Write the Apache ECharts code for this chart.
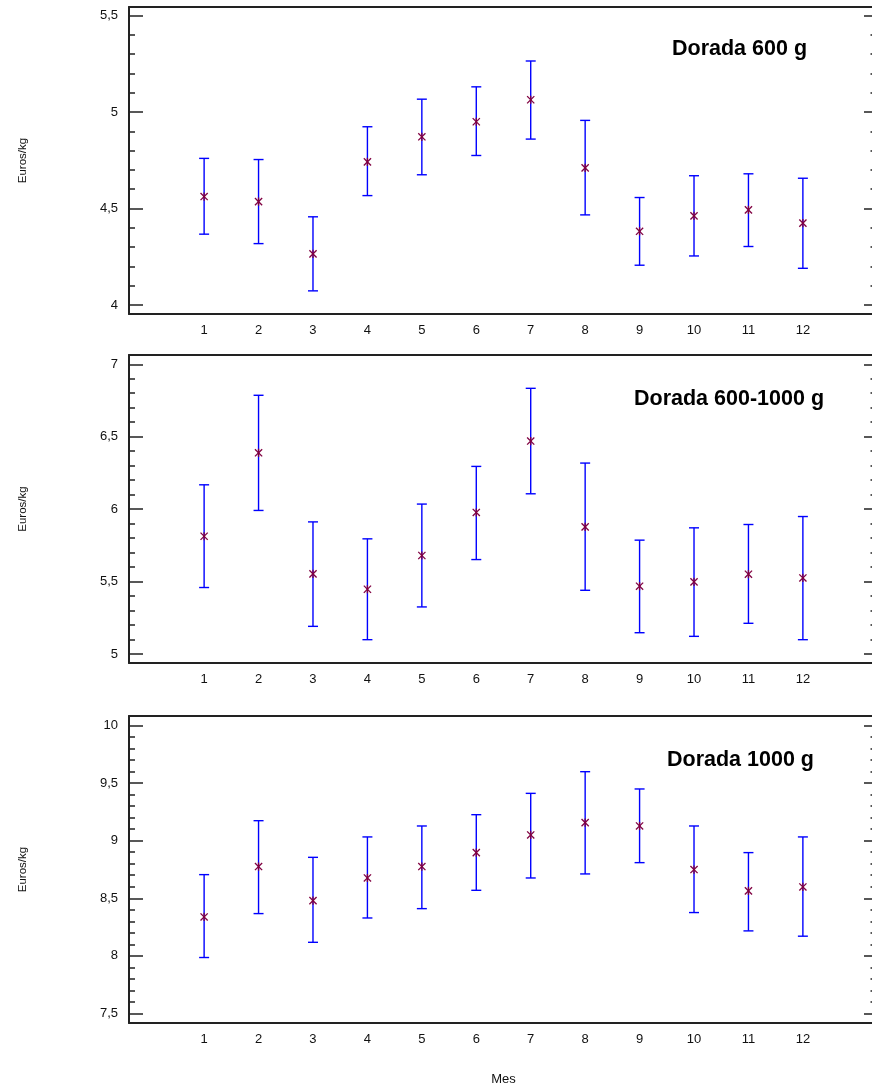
<!DOCTYPE html>
<html>
<head>
<meta charset="utf-8">
<script src="https://cdn.jsdelivr.net/npm/echarts@6/dist/echarts.min.js"></script>
<style>html,body{margin:0;padding:0;background:#fff}#c{width:872px;height:1088px}</style>
</head>
<body>
<div id="c"></div>
<script>
// ---- data ----
const months = [1, 2, 3, 4, 5, 6, 7, 8, 9, 10, 11, 12];
const panelTitles = ['Dorada 600 g', 'Dorada 600-1000 g', 'Dorada 1000 g'];
const yAxisName = 'Euros/kg';
const xAxisName = 'Mes';

const p1Mean = [4.562, 4.536, 4.265, 4.742, 4.872, 4.950, 5.064, 4.711, 4.382, 4.462, 4.493, 4.424];
const p1Low  = [4.367, 4.318, 4.073, 4.567, 4.675, 4.775, 4.860, 4.467, 4.206, 4.254, 4.303, 4.190];
const p1High = [4.760, 4.754, 4.457, 4.924, 5.067, 5.131, 5.265, 4.957, 4.557, 4.670, 4.680, 4.657];

const p2Mean = [5.813, 6.389, 5.553, 5.447, 5.680, 5.977, 6.470, 5.878, 5.468, 5.498, 5.551, 5.525];
const p2Low  = [5.459, 5.991, 5.191, 5.099, 5.325, 5.652, 6.106, 5.440, 5.147, 5.122, 5.212, 5.099];
const p2High = [6.168, 6.786, 5.912, 5.795, 6.035, 6.295, 6.834, 6.318, 5.786, 5.871, 5.894, 5.949];

const p3Mean = [8.338, 8.775, 8.480, 8.676, 8.775, 8.896, 9.049, 9.156, 9.127, 8.749, 8.564, 8.598];
const p3Low  = [7.986, 8.367, 8.118, 8.329, 8.410, 8.569, 8.676, 8.711, 8.809, 8.376, 8.217, 8.171];
const p3High = [8.705, 9.173, 8.855, 9.032, 9.127, 9.225, 9.410, 9.598, 9.448, 9.127, 8.896, 9.032];

const yTicks1 = [4, 4.5, 5, 5.5];
const yTicks2 = [5, 5.5, 6, 6.5, 7];
const yTicks3 = [7.5, 8, 8.5, 9, 9.5, 10];

// ---- layout / style ----
const FONT = "'Liberation Sans', Arial, sans-serif";
const panels = [
  { mean: p1Mean, low: p1Low, high: p1High, ticks: yTicks1, min: 3.953, max: 5.545, top: 7,   height: 307, title: { left: 672, top: 38 } },
  { mean: p2Mean, low: p2Low, high: p2High, ticks: yTicks2, min: 4.938, max: 7.064, top: 355, height: 308, title: { left: 634, top: 388 } },
  { mean: p3Mean, low: p3Low, high: p3High, ticks: yTicks3, min: 7.418, max: 10.081, top: 716, height: 307, title: { left: 667, top: 749 } }
];

function minorValues(min, max) {
  const out = [];
  for (let v = Math.ceil(min * 10); v <= Math.floor(max * 10); v++) out.push(v / 10);
  return out;
}

const AX = '#222';
const grids = [], xAxes = [], yAxes = [], series = [], titles = [];

panels.forEach((p, i) => {
  const g = { left: 129, top: p.top, width: 749, height: p.height, containLabel: false, outerBoundsMode: 'none' };
  grids.push(Object.assign({}, g));   // main grid: 2i
  grids.push(Object.assign({}, g));   // minor-tick grid: 2i+1
  const gm = 2 * i, gn = 2 * i + 1;

  // bottom x axis with labels
  xAxes.push({
    type: 'value', gridIndex: gm, position: 'bottom', min: -0.38, max: 13.38,
    axisLine: { show: true, onZero: false, lineStyle: { color: AX, width: 2 } },
    axisTick: { show: false },
    splitLine: { show: false },
    axisLabel: { customValues: months, color: '#111', fontSize: 13, fontFamily: FONT, margin: 10 },
    name: i === 2 ? xAxisName : '', nameLocation: 'middle', nameGap: 50,
    nameTextStyle: { color: '#111', fontSize: 13, fontFamily: FONT }
  });
  // top frame line
  xAxes.push({
    type: 'value', gridIndex: gm, position: 'top', min: -0.38, max: 13.38,
    axisLine: { show: true, onZero: false, lineStyle: { color: AX, width: 2 } },
    axisTick: { show: false }, axisLabel: { show: false }, splitLine: { show: false }
  });
  // hidden x axis for minor grid
  xAxes.push({ type: 'value', gridIndex: gn, show: false, min: -0.38, max: 13.38,
    axisLine: { onZero: false } });

  const minors = minorValues(p.min, p.max);
  const yBase = { type: 'value', min: p.min, max: p.max, splitLine: { show: false } };
  // left major + labels
  yAxes.push(Object.assign({}, yBase, {
    gridIndex: gm, position: 'left',
    axisLine: { show: true, onZero: false, lineStyle: { color: AX, width: 2 } },
    axisTick: { show: true, inside: true, length: 14, customValues: p.ticks, lineStyle: { color: AX, width: 1.5 } },
    axisLabel: { customValues: p.ticks, color: '#111', fontSize: 13, fontFamily: FONT, margin: 11,
      formatter: v => String(v).replace('.', ',') },
    name: yAxisName, nameLocation: 'middle', nameGap: 100, nameRotate: 90,
    nameTextStyle: { color: '#111', fontSize: 11.5, fontFamily: FONT }
  }));
  // right major
  yAxes.push(Object.assign({}, yBase, {
    gridIndex: gm, position: 'right',
    axisLine: { show: true, onZero: false, lineStyle: { color: AX, width: 2 } },
    axisTick: { show: true, inside: true, length: 14, customValues: p.ticks, lineStyle: { color: AX, width: 1.5 } },
    axisLabel: { show: false }
  }));
  // left minor
  yAxes.push(Object.assign({}, yBase, {
    gridIndex: gn, position: 'left', axisLine: { show: false, onZero: false },
    axisTick: { show: true, inside: true, length: 6, customValues: minors, lineStyle: { color: AX, width: 1.5 } },
    axisLabel: { show: false }
  }));
  // right minor
  yAxes.push(Object.assign({}, yBase, {
    gridIndex: gn, position: 'right', axisLine: { show: false, onZero: false },
    axisTick: { show: true, inside: true, length: 7.5, customValues: minors, lineStyle: { color: AX, width: 1.5 } },
    axisLabel: { show: false }
  }));

  series.push({
    type: 'custom', xAxisIndex: 3 * i, yAxisIndex: 4 * i,
    encode: { x: 0, y: [1, 2, 3] },
    data: months.map((m, k) => [m, p.mean[k], p.low[k], p.high[k]]),
    renderItem: function (params, api) {
      const x = api.value(0);
      const pm = api.coord([x, api.value(1)]);
      const pl = api.coord([x, api.value(2)]);
      const ph = api.coord([x, api.value(3)]);
      const cap = 5, s = 3.6;
      const blue = { stroke: '#0000ff', lineWidth: 1.4 };
      const mk = { stroke: '#800040', lineWidth: 1.3 };
      return {
        type: 'group',
        children: [
          { type: 'line', shape: { x1: pl[0], y1: pl[1], x2: ph[0], y2: ph[1] }, style: blue },
          { type: 'line', shape: { x1: pl[0] - cap, y1: pl[1], x2: pl[0] + cap, y2: pl[1] }, style: blue },
          { type: 'line', shape: { x1: ph[0] - cap, y1: ph[1], x2: ph[0] + cap, y2: ph[1] }, style: blue },
          { type: 'line', shape: { x1: pm[0] - s, y1: pm[1] - s, x2: pm[0] + s, y2: pm[1] + s }, style: mk },
          { type: 'line', shape: { x1: pm[0] - s, y1: pm[1] + s, x2: pm[0] + s, y2: pm[1] - s }, style: mk },
          { type: 'line', shape: { x1: pm[0], y1: pm[1] - s - 0.5, x2: pm[0], y2: pm[1] + s + 0.5 }, style: mk }
        ]
      };
    }
  });

  titles.push({
    text: panelTitles[i], left: p.title.left, top: p.title.top, padding: 0,
    textStyle: { fontSize: 21.5, fontWeight: 'bold', color: '#000', fontFamily: FONT }
  });
});

const chart = echarts.init(document.getElementById('c'), null, { renderer: 'canvas' });
chart.setOption({
  animation: false,
  backgroundColor: '#fff',
  title: titles,
  grid: grids,
  xAxis: xAxes,
  yAxis: yAxes,
  series: series
});
</script>
</body>
</html>
